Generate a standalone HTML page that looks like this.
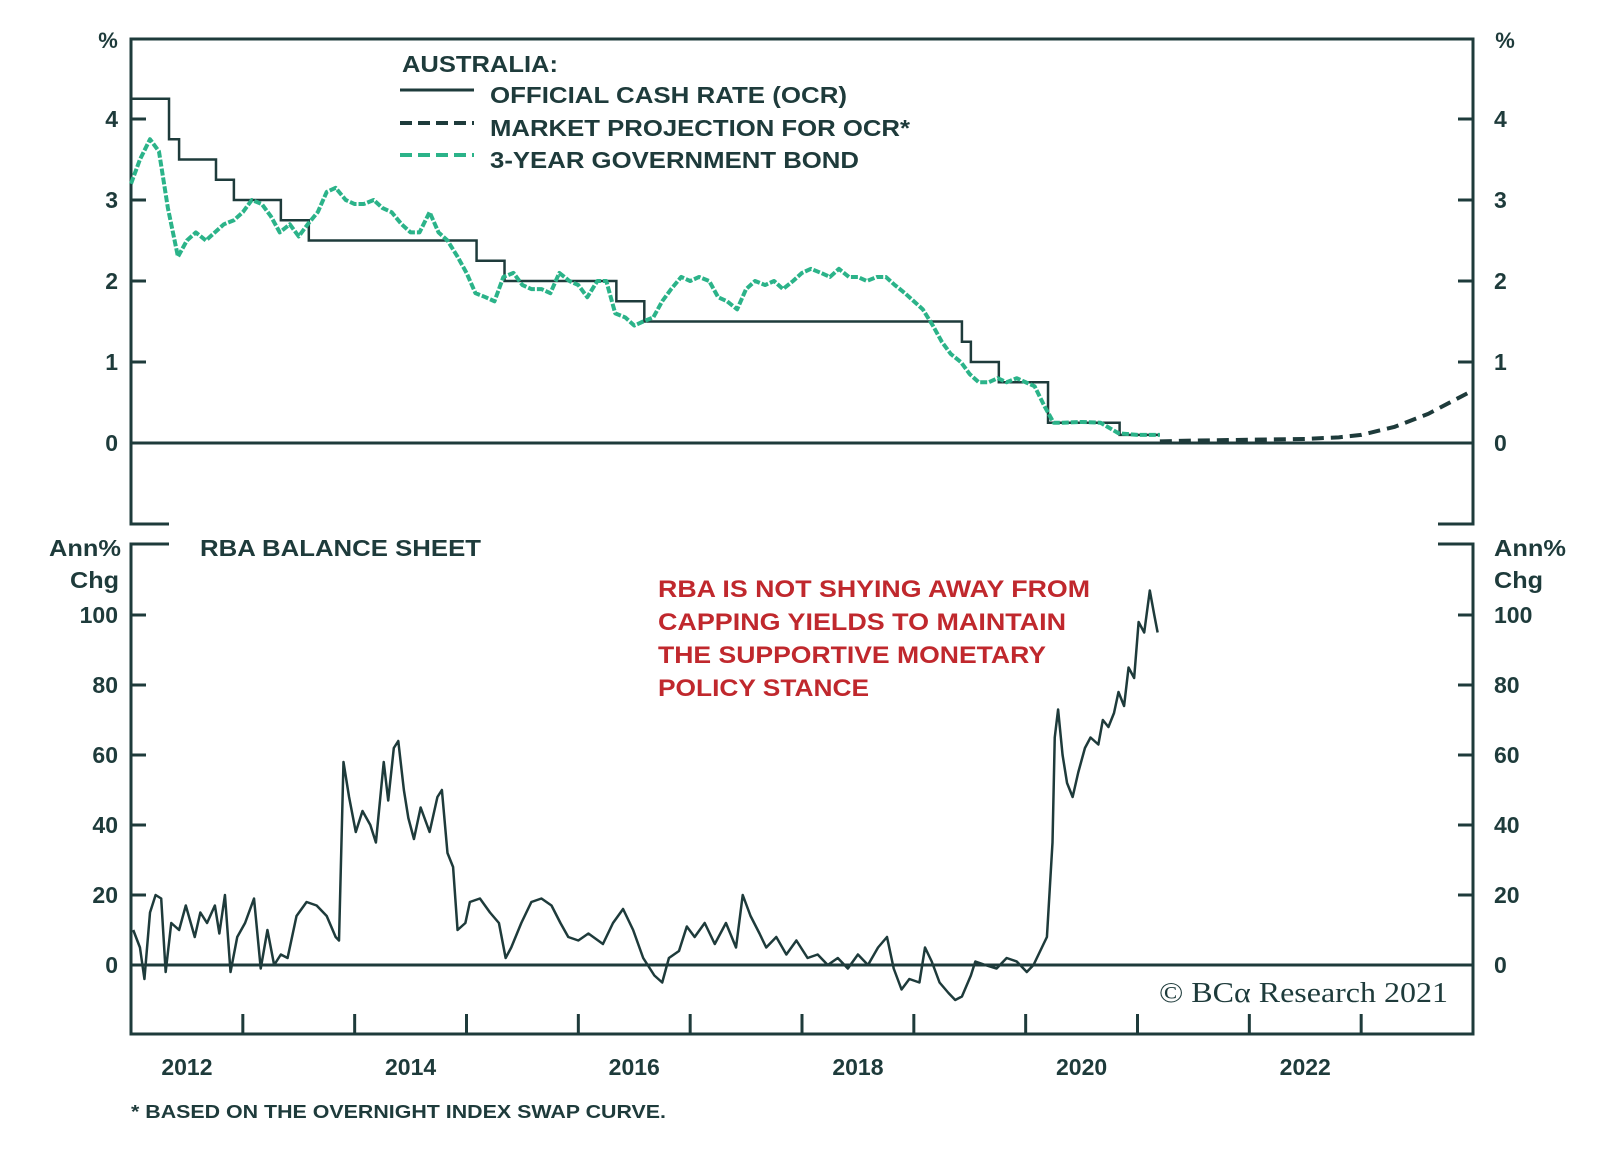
<!DOCTYPE html>
<html><head><meta charset="utf-8"><style>
html,body{margin:0;padding:0;background:#fff;}
svg{display:block;}
text{font-family:"Liberation Sans",sans-serif;font-weight:bold;fill:#1e3b3b;}
</style></head><body>
<svg id="chart" width="1600" height="1156" viewBox="0 0 1600 1156">
<g id="frame"></g>
<g id="marks"></g>
<g id="labels">
  <text x="108" y="48" font-size="22" text-anchor="middle">%</text>
  <text x="1505" y="48" font-size="22" text-anchor="middle">%</text>
  <text x="402" y="72" font-size="23" textLength="156" lengthAdjust="spacingAndGlyphs">AUSTRALIA:</text>
  <line x1="400" y1="90" x2="474" y2="90" stroke="#1e3b3b" stroke-width="3"/>
  <text x="490" y="103" font-size="23" textLength="357" lengthAdjust="spacingAndGlyphs">OFFICIAL CASH RATE (OCR)</text>
  <line x1="400" y1="123" x2="474" y2="123" stroke="#1e3b3b" stroke-width="4" stroke-dasharray="12,6"/>
  <text x="490" y="136" font-size="23" textLength="420" lengthAdjust="spacingAndGlyphs">MARKET PROJECTION FOR OCR*</text>
  <line x1="400" y1="155" x2="474" y2="155" stroke="#2bb389" stroke-width="4" stroke-dasharray="12,6"/>
  <text x="490" y="168" font-size="23" textLength="369" lengthAdjust="spacingAndGlyphs">3-YEAR GOVERNMENT BOND</text>
  <text x="200" y="556" font-size="23" textLength="281" lengthAdjust="spacingAndGlyphs">RBA BALANCE SHEET</text>
  <text x="49" y="556" font-size="23" textLength="72" lengthAdjust="spacingAndGlyphs">Ann%</text>
  <text x="70" y="588" font-size="23" textLength="49" lengthAdjust="spacingAndGlyphs">Chg</text>
  <text x="1494" y="556" font-size="23" textLength="72" lengthAdjust="spacingAndGlyphs">Ann%</text>
  <text x="1494" y="588" font-size="23" textLength="49" lengthAdjust="spacingAndGlyphs">Chg</text>
  <g>
    <text x="658" y="597" font-size="24" textLength="432" lengthAdjust="spacingAndGlyphs" style="fill:#c0282d">RBA IS NOT SHYING AWAY FROM</text>
    <text x="658" y="630" font-size="24" textLength="408" lengthAdjust="spacingAndGlyphs" style="fill:#c0282d">CAPPING YIELDS TO MAINTAIN</text>
    <text x="658" y="663" font-size="24" textLength="388" lengthAdjust="spacingAndGlyphs" style="fill:#c0282d">THE SUPPORTIVE MONETARY</text>
    <text x="658" y="696" font-size="24" textLength="211" lengthAdjust="spacingAndGlyphs" style="fill:#c0282d">POLICY STANCE</text>
  </g>
  <text x="1159" y="1002" font-size="29" textLength="289" lengthAdjust="spacingAndGlyphs" style="font-family:'Liberation Serif',serif;font-weight:normal">© BCα Research 2021</text>
  <text x="131" y="1118" font-size="18" textLength="535" lengthAdjust="spacingAndGlyphs">* BASED ON THE OVERNIGHT INDEX SWAP CURVE.</text>
</g>
</svg>
<script>
// ---- data ----
const ocrYears=[2012.0,2012.34,2012.43,2012.76,2012.92,2013.34,2013.59,2015.09,2015.34,2016.34,2016.59,2019.43,2019.51,2019.76,2020.2,2020.84];
const ocrRates=[4.25,3.75,3.5,3.25,3.0,2.75,2.5,2.25,2.0,1.75,1.5,1.25,1.0,0.75,0.25,0.1];
const ocrEnd=2021.2;
const projYears=[2021.2,2021.5,2022.0,2022.5,2022.8,2023.0,2023.3,2023.6,2024.0];
const projRates=[0.02,0.03,0.04,0.05,0.07,0.1,0.2,0.36,0.65];
const bondYears=[2012.0,2012.08,2012.17,2012.25,2012.33,2012.42,2012.5,2012.58,2012.67,2012.75,2012.83,2012.92,2013.0,2013.08,2013.17,2013.25,2013.33,2013.42,2013.5,2013.58,2013.67,2013.75,2013.83,2013.92,2014.0,2014.08,2014.17,2014.25,2014.33,2014.42,2014.5,2014.58,2014.67,2014.75,2014.83,2014.92,2015.0,2015.08,2015.17,2015.25,2015.33,2015.42,2015.5,2015.58,2015.67,2015.75,2015.83,2015.92,2016.0,2016.08,2016.17,2016.25,2016.33,2016.42,2016.5,2016.58,2016.67,2016.75,2016.83,2016.92,2017.0,2017.08,2017.17,2017.25,2017.33,2017.42,2017.5,2017.58,2017.67,2017.75,2017.83,2017.92,2018.0,2018.08,2018.17,2018.25,2018.33,2018.42,2018.5,2018.58,2018.67,2018.75,2018.83,2018.92,2019.0,2019.08,2019.17,2019.25,2019.33,2019.42,2019.5,2019.58,2019.67,2019.75,2019.83,2019.92,2020.0,2020.08,2020.17,2020.25,2020.33,2020.5,2020.67,2020.83,2021.0,2021.2];
const bondRates=[3.2,3.5,3.75,3.6,2.9,2.3,2.5,2.6,2.5,2.6,2.7,2.75,2.85,3.0,2.95,2.8,2.6,2.7,2.55,2.7,2.85,3.1,3.15,3.0,2.95,2.95,3.0,2.9,2.85,2.7,2.6,2.6,2.85,2.6,2.5,2.3,2.1,1.85,1.8,1.75,2.05,2.1,1.95,1.9,1.9,1.85,2.1,2.0,1.95,1.8,2.0,2.0,1.6,1.55,1.45,1.5,1.55,1.75,1.9,2.05,2.0,2.05,2.0,1.8,1.75,1.65,1.9,2.0,1.95,2.0,1.9,2.0,2.1,2.15,2.1,2.05,2.15,2.05,2.05,2.0,2.05,2.05,1.95,1.85,1.75,1.65,1.45,1.25,1.1,1.0,0.85,0.75,0.75,0.8,0.75,0.8,0.75,0.7,0.45,0.25,0.25,0.26,0.25,0.12,0.1,0.1];
const bsOffsets=[.02,.08,.12,.17,.22,.27,.31,.36,.43,.49,.57,.62,.68,.75,.79,.84,.89,.95,1.02,1.10,1.16,1.22,1.28,1.34,1.40,1.48,1.57,1.66,1.75,1.83,1.86,1.90,1.95,2.01,2.07,2.14,2.19,2.26,2.30,2.35,2.39,2.44,2.48,2.53,2.59,2.67,2.74,2.78,2.83,2.88,2.92,2.99,3.03,3.12,3.21,3.29,3.35,3.40,3.49,3.58,3.67,3.76,3.84,3.91,4.0,4.09,4.22,4.31,4.40,4.49,4.58,4.68,4.75,4.81,4.90,4.97,5.04,5.13,5.22,5.32,5.41,5.47,5.54,5.62,5.68,5.77,5.86,5.95,6.05,6.14,6.23,6.32,6.41,6.50,6.59,6.68,6.76,6.82,6.89,6.96,7.05,7.10,7.16,7.23,7.31,7.37,7.43,7.51,7.55,7.64,7.74,7.83,7.92,8.01,8.07,8.13,8.19,8.24,8.26,8.29,8.33,8.37,8.42,8.47,8.53,8.58,8.65,8.69,8.74,8.79,8.83,8.88,8.92,8.97,9.01,9.06,9.11,9.15,9.18];
const bsValues=[10,5,-4,15,20,19,-2,12,10,17,8,15,12,17,9,20,-2,8,12,19,-1,10,0,3,2,14,18,17,14,8,7,58,48,38,44,40,35,58,47,62,64,50,42,36,45,38,48,50,32,28,10,12,18,19,15,12,2,5,12,18,19,17,12,8,7,9,6,12,16,10,2,-3,-5,2,4,11,8,12,6,12,5,20,14,9,5,8,3,7,2,3,0,2,-1,3,0,5,8,-1,-7,-4,-5,5,1,-5,-8,-10,-9,-3,1,0,-1,2,1,-2,0,4,8,35,65,73,60,52,48,55,62,65,63,70,68,72,78,74,85,82,98,95,107,100,95];
const topTicks=[0,1,2,3,4];
const botTicks=[0,20,40,60,80,100];
const yearLabels=[2012,2014,2016,2018,2020,2022];
const yearTicks=[2013,2014,2015,2016,2017,2018,2019,2020,2021,2022,2023];

// ---- scales ----
const L=131,R=1473,X0=2012,X1=2024;
const x=t=>L+(t-X0)/(X1-X0)*(R-L);
const yTop=v=>443-v*81.0;
const yBot=v=>965-v*3.5;
const NS='http://www.w3.org/2000/svg';
const C='#1e3b3b';
function mk(tag,parent,attrs){const e=document.createElementNS(NS,tag);for(const k in attrs)e.setAttribute(k,attrs[k]);parent.appendChild(e);return e;}
const frame=document.getElementById('frame'),marks=document.getElementById('marks'),labels=document.getElementById('labels');

let p=mk('path',frame,{d:`M169,524 H${L} V39 H${R} V524 H1438`,fill:'none',stroke:C,'stroke-width':3});


p=mk('path',frame,{d:`M169,544 H${L} V1034 H${R} V544 H1438`,fill:'none',stroke:C,'stroke-width':3});


p=mk('line',frame,{x1:L,x2:R,y1:yTop(0),y2:yTop(0),stroke:C,'stroke-width':3});


p=mk('line',frame,{x1:L,x2:R,y1:yBot(0),y2:yBot(0),stroke:C,'stroke-width':3});



topTicks.forEach(v=>{
  const y=yTop(v);
  let t=mk('path',frame,{d:`M${L},${y}h15M${R},${y}h-15`,stroke:C,'stroke-width':3});
  
  
  let a=mk('text',labels,{x:118,y:y+8,'font-size':23,'text-anchor':'end'});a.textContent=v;
  
  
  let b=mk('text',labels,{x:1494,y:y+8,'font-size':23});b.textContent=v;
  
  
});
botTicks.forEach(v=>{
  const y=yBot(v);
  let t=mk('path',frame,{d:`M${L},${y}h15M${R},${y}h-15`,stroke:C,'stroke-width':3});
  
  
  let a=mk('text',labels,{x:118,y:y+8,'font-size':23,'text-anchor':'end'});a.textContent=v;
  
  
  let b=mk('text',labels,{x:1494,y:y+8,'font-size':23});b.textContent=v;
  
  
});
yearTicks.forEach(t=>{
  let k=mk('line',frame,{x1:x(t),x2:x(t),y1:1034,y2:1014,stroke:C,'stroke-width':3});
  
  
});
yearLabels.forEach(t=>{
  let a=mk('text',labels,{x:x(t+0.5),y:1075,'font-size':23,'text-anchor':'middle'});a.textContent=t;
  
  
});

let d='';
ocrYears.forEach((t,i)=>{const nx=i+1<ocrYears.length?ocrYears[i+1]:ocrEnd;d+=(i?'V':'M'+x(t)+',')+yTop(ocrRates[i])+'H'+x(nx);});
let s=mk('path',marks,{d:d,fill:'none',stroke:C,'stroke-width':2.5});



s=mk('path',marks,{d:'M'+projYears.map((t,i)=>x(t)+','+yTop(projRates[i])).join('L'),fill:'none',stroke:C,'stroke-width':4,'stroke-dasharray':'12,7'});



s=mk('path',marks,{d:'M'+bondYears.map((t,i)=>x(t)+','+yTop(bondRates[i])).join('L'),fill:'none',stroke:'#2bb389','stroke-width':4,'stroke-dasharray':'7,2','stroke-linejoin':'round'});



s=mk('path',marks,{d:'M'+bsOffsets.map((o,i)=>x(X0+o)+','+yBot(bsValues[i])).join('L'),fill:'none',stroke:C,'stroke-width':2.5,'stroke-linejoin':'round'});


</script>
</body></html>
